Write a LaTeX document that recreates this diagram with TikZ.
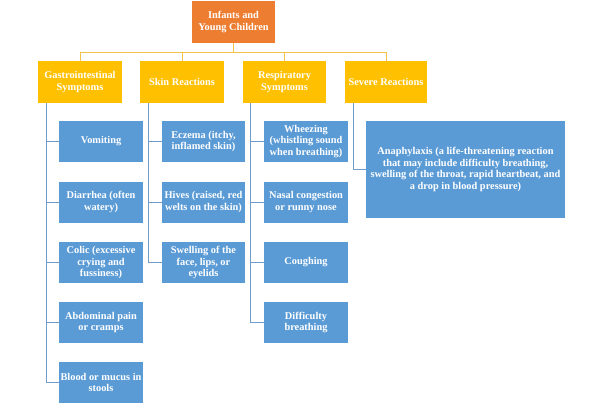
\documentclass[tikz,border=0pt]{standalone}
\usepackage{fontspec}
\setmainfont{Liberation Serif}
\definecolor{rootc}{HTML}{ED7D31}
\definecolor{headc}{HTML}{FFC000}
\definecolor{leafc}{HTML}{5B9BD5}
\definecolor{hline}{HTML}{F4C24A}
\definecolor{lline}{HTML}{6F9CCB}
\begin{document}
\begin{tikzpicture}[x=1bp,y=-1bp,
  box/.style={inner sep=0pt, align=center, text=white, font=\bfseries\fontsize{10.4}{11.7}\selectfont},
  rootbox/.style={box, fill=rootc, minimum width=83bp, minimum height=42bp},
  headbox/.style={box, fill=headc, minimum height=42bp},
  leafbox/.style={box, fill=leafc, minimum height=41bp},
  hconn/.style={draw=hline, line width=1pt},
  lconn/.style={draw=lline, line width=1pt}]
\useasboundingbox (0,0) rectangle (599,412);
\node[rootbox] (root) at (233.5,22) {Infants and\\Young Children};
\node[headbox, minimum width=84bp] (gi) at (80,82) {Gastrointestinal\\Symptoms};
\node[headbox, minimum width=84bp] (sk) at (182,82) {Skin Reactions};
\node[headbox, minimum width=83bp] (re) at (284.5,82) {Respiratory\\Symptoms};
\node[headbox, minimum width=82bp] (sv) at (386,82) {Severe Reactions};
\coordinate (bus) at (233.5,52);
\draw[hconn] (root.south) -- (bus);
\draw[hconn] (bus) -| (gi.north);
\draw[hconn] (bus) -| (sk.north);
\draw[hconn] (bus) -| (re.north);
\draw[hconn] (bus) -| (sv.north);
% gastro
\node[leafbox, minimum width=84bp] (g1) at (101,141.5) {Vomiting};
\node[leafbox, minimum width=84bp] (g2) at (101,202) {Diarrhea (often\\watery)};
\node[leafbox, minimum width=84bp] (g3) at (101,262.5) {Colic (excessive\\crying and\\fussiness)};
\node[leafbox, minimum width=84bp] (g4) at (101,322.5) {Abdominal pain\\or cramps};
\node[leafbox, minimum width=84bp] (g5) at (101,382.5) {Blood or mucus in\\stools};
% skin
\node[leafbox, minimum width=83bp] (s1) at (203.5,141.5) {Eczema (itchy,\\inflamed skin)};
\node[leafbox, minimum width=83bp] (s2) at (203.5,202) {Hives (raised, red\\welts on the skin)};
\node[leafbox, minimum width=83bp] (s3) at (203.5,262.5) {Swelling of the\\face, lips, or\\eyelids};
% respiratory
\node[leafbox, minimum width=84bp] (r1) at (306,141.5) {Wheezing\\(whistling sound\\when breathing)};
\node[leafbox, minimum width=84bp] (r2) at (306,202) {Nasal congestion\\or runny nose};
\node[leafbox, minimum width=84bp] (r3) at (306,262.5) {Coughing};
\node[leafbox, minimum width=84bp] (r4) at (306,322.5) {Difficulty\\breathing};
% severe
\node[leafbox, minimum width=199bp, minimum height=97bp] (v1) at (465.5,169.5) {Anaphylaxis (a life-threatening reaction\\that may include difficulty breathing,\\swelling of the throat, rapid heartbeat, and\\a drop in blood pressure)};
% connectors
\foreach \c in {g1,g2,g3,g4,g5} \draw[lconn] ([xshift=9bp]gi.south west) |- (\c.west);
\foreach \c in {s1,s2,s3} \draw[lconn] ([xshift=9bp]sk.south west) |- (\c.west);
\foreach \c in {r1,r2,r3,r4} \draw[lconn] ([xshift=8bp]re.south west) |- (\c.west);
\draw[lconn] ([xshift=9bp]sv.south west) |- (v1.west);
\end{tikzpicture}
\end{document}
